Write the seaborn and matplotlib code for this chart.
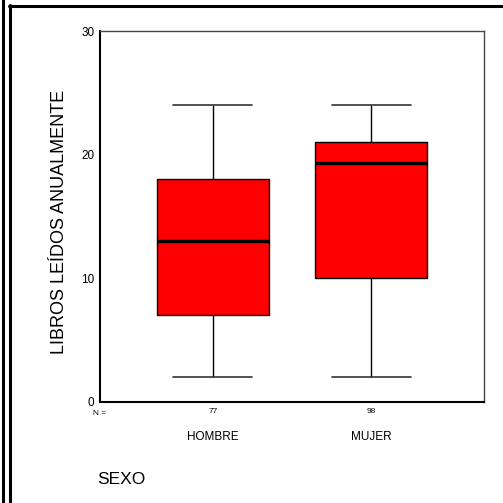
import matplotlib
matplotlib.use("Agg")
import matplotlib.pyplot as plt
import seaborn as sns
import pandas as pd
from matplotlib.lines import Line2D
from matplotlib.transforms import blended_transform_factory

# Box summary per group: min, Q1, median, Q3, max
categories = ["HOMBRE", "MUJER"]
hombre_vals = [2, 7, 13, 18, 24]
mujer_vals = [2, 10, 19.3, 21, 24]
n_labels = ["77", "98"]
y_ticks = [0, 10, 20, 30]

df = pd.DataFrame({
    "sexo": [categories[0]] * len(hombre_vals) + [categories[1]] * len(mujer_vals),
    "libros": hombre_vals + mujer_vals,
})

sns.set_style("white")
plt.rcParams["font.family"] = ["Liberation Sans", "DejaVu Sans"]
plt.rcParams["text.color"] = "black"

fig = plt.figure(figsize=(5.03, 5.03), dpi=100)
ax = fig.add_axes([100 / 503, 1 - 402 / 503, 384 / 503, 371 / 503])

sns.boxplot(data=df, x="sexo", y="libros", order=categories, ax=ax,
            width=0.71, color="#ff0000", saturation=1, whis=1.5,
            linecolor="black", linewidth=1.0,
            boxprops=dict(facecolor="#ff0000", edgecolor="black", linewidth=1.0),
            medianprops=dict(color="black", linewidth=2.4),
            whiskerprops=dict(color="black", linewidth=1.0),
            capprops=dict(color="#333333", linewidth=1.2),
            capwidths=0.5)

ax.set_xlim(-0.715, 1.715)
ax.set_ylim(0, 30)
ax.set_yticks(y_ticks)
ax.set_yticklabels([str(v) for v in y_ticks], fontsize=8.5)
ax.set_xticks([0, 1])
ax.set_xticklabels(n_labels, fontsize=6)
ax.tick_params(axis="both", direction="out", length=2, width=2, colors="black",
               labelcolor="black", pad=2)
ax.set_xlabel("")
ax.set_ylabel("LIBROS LEÍDOS ANUALMENTE", fontsize=13, color="black")
ax.yaxis.set_label_coords(-32 / 384, 0.484)

for side in ["left", "bottom"]:
    ax.spines[side].set_color("black")
    ax.spines[side].set_linewidth(1.5)
for side in ["top", "right"]:
    ax.spines[side].set_color("#444444")
    ax.spines[side].set_linewidth(1.0)

trans = blended_transform_factory(ax.transData, ax.transAxes)
for i, cat in enumerate(categories):
    ax.text(i, -0.095, cat, transform=trans, ha="center", va="center",
            fontsize=8.5, color="black")
ax.text(-0.715, -0.03, "N =", transform=trans, ha="center", va="center",
        fontsize=6, color="black")

fig.text(97 / 503, 1 - 480 / 503, "SEXO", ha="left", va="center",
         fontsize=12.5, color="black")

# outer frame lines
fig.add_artist(Line2D([2.5 / 503, 2.5 / 503], [0, 1], color="black", linewidth=2.2))
fig.add_artist(Line2D([9.5 / 503, 9.5 / 503], [0, 1 - 4.5 / 503], color="black", linewidth=2.2))
fig.add_artist(Line2D([9 / 503, 1], [1 - 5.5 / 503, 1 - 5.5 / 503], color="black", linewidth=2.2))

fig.savefig("out.png", dpi=100)
